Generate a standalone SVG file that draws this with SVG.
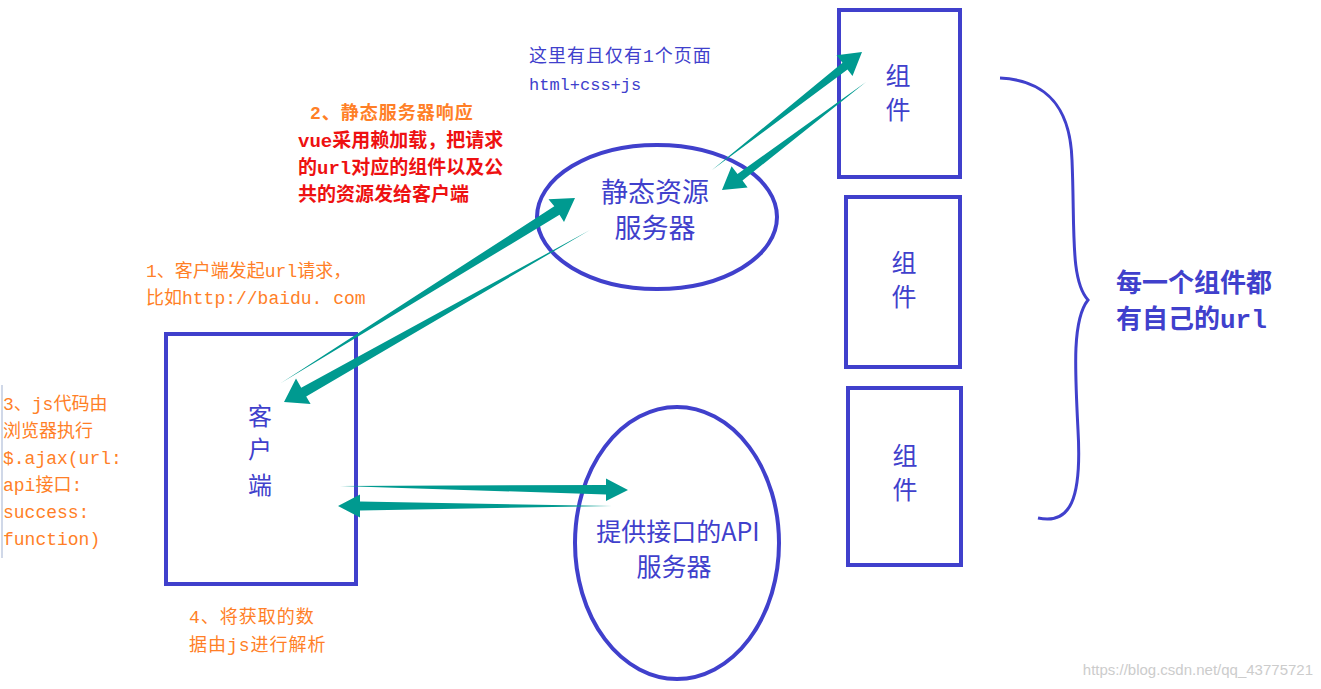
<svg xmlns="http://www.w3.org/2000/svg" width="1321" height="689" viewBox="0 0 1321 689">
<style>
.box{fill:none;stroke:#4040cc;stroke-width:4}
.arr{fill:#009a90}
.bl{fill:#4040cc;font-family:"Noto Sans CJK SC",sans-serif}
.bm{fill:#4040cc;font-family:"Liberation Mono","Noto Sans CJK SC",monospace}
.or{fill:#ff7f27;font-family:"Liberation Mono","Noto Sans CJK SC",monospace;font-size:18px}
.rd{fill:#ee1111;font-family:"Liberation Mono","Noto Sans CJK SC",monospace;font-size:19px;font-weight:bold}
</style>
<rect width="1321" height="689" fill="#fff"/>
<g id="client"><rect class="box" x="166" y="334" width="190" height="250"/>
<text class="bl" font-size="24" x="260" y="425" text-anchor="middle">客</text>
<text class="bl" font-size="24" x="260" y="458" text-anchor="middle">户</text>
<text class="bl" font-size="24" x="260" y="494" text-anchor="middle">端</text></g>
<g id="static"><ellipse class="box" cx="657" cy="217" rx="120" ry="72"/>
<text class="bl" font-size="27" x="655" y="202" text-anchor="middle">静态资源</text>
<text class="bl" font-size="27" x="655" y="238" text-anchor="middle">服务器</text></g>
<g id="api"><ellipse class="box" cx="677" cy="543" rx="102" ry="136"/>
<text class="bl" font-size="25" x="678" y="541" text-anchor="middle">提供接口的API</text>
<text class="bl" font-size="25" x="674" y="576" text-anchor="middle">服务器</text></g>
<g id="c1"><rect class="box" x="839" y="10" width="121" height="167"/>
<text class="bl" font-size="25" x="898" y="85" text-anchor="middle">组</text>
<text class="bl" font-size="25" x="898" y="119" text-anchor="middle">件</text></g>
<g id="c2"><rect class="box" x="846" y="197" width="114" height="170"/>
<text class="bl" font-size="25" x="904" y="272" text-anchor="middle">组</text>
<text class="bl" font-size="25" x="904" y="306" text-anchor="middle">件</text></g>
<g id="c3"><rect class="box" x="848" y="388" width="113" height="177"/>
<text class="bl" font-size="25" x="905" y="465" text-anchor="middle">组</text>
<text class="bl" font-size="25" x="905" y="499" text-anchor="middle">件</text></g>
<g id="brace"><path d="M1000,78 C1040,80 1070,100 1072,160 C1075,230 1070,280 1088,300 C1072,320 1075,370 1078,430 C1082,500 1070,525 1038,518" fill="none" stroke="#4040cc" stroke-width="3"/>
<text class="bm" font-size="26" font-weight="bold" x="1116" y="292">每一个组件都</text>
<text class="bm" font-size="26" font-weight="bold" x="1116" y="328">有自己的url</text></g>
<g id="connectors">
<polygon class="arr" points="281,383 559.5,214.8 564,222 575,198 548.5,199.2 554.3,206.3"/>
<polygon class="arr" points="590,230 306.2,396.5 310.6,404 284,402 296,378.5 301.2,387.7"/>
<polygon class="arr" points="712,170 847.5,69.5 852.5,76 862,52 836.5,55.2 842.5,62.8"/>
<polygon class="arr" points="866,82 742.5,180.5 747.6,187.5 722,190 731.6,166.3 737.5,174"/>
<polygon class="arr" points="340,486 606,494.5 606,501 628,490 606,478.5 606,485"/>
<polygon class="arr" points="612,506 360,501.5 360,494.5 338,506 360,517.5 360,510.5"/>
</g>
<text class="bm" font-size="18" x="529" y="62" letter-spacing="1">这里有且仅有1个页面</text>
<text class="bm" font-size="17" x="529" y="90">html+css+js</text>
<text class="or" font-weight="bold" x="310" y="119" letter-spacing="1">2、静态服务器响应</text>
<text class="rd" x="298" y="147">vue采用赖加载，把请求</text>
<text class="rd" x="298" y="174">的url对应的组件以及公</text>
<text class="rd" x="298" y="201">共的资源发给客户端</text>
<text class="or" x="146" y="277">1、客户端发起url请求，</text>
<text class="or" x="146" y="304">比如http://baidu. com</text>
<line x1="2" y1="385" x2="2" y2="558" stroke="#d0d8e8" stroke-width="2"/>
<text class="or" x="3" y="410">3、js代码由</text>
<text class="or" x="3" y="437">浏览器执行</text>
<text class="or" x="3" y="464">$.ajax(url:</text>
<text class="or" x="3" y="491">api接口:</text>
<text class="or" x="3" y="518">success:</text>
<text class="or" x="3" y="545">function)</text>
<text class="or" x="189" y="623" letter-spacing="1">4、将获取的数</text>
<text class="or" x="189" y="651" letter-spacing="1">据由js进行解析</text>
<text x="1313" y="675" text-anchor="end" fill="#cccccc" font-size="15" font-family="Liberation Sans,sans-serif">https://blog.csdn.net/qq_43775721</text>
</svg>
